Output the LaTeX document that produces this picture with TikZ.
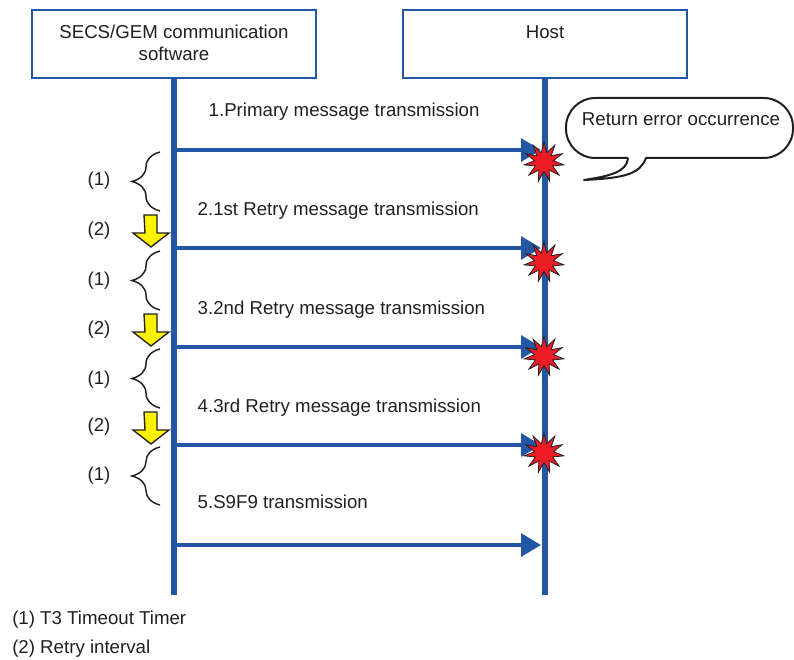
\documentclass[tikz,border=0pt]{standalone}
\usepackage{fontspec}
\setmainfont{Liberation Sans}
\usetikzlibrary{arrows.meta,shapes.geometric,decorations.pathreplacing}
\definecolor{lineblue}{RGB}{35,87,165}
\definecolor{hitred}{RGB}{237,28,36}
\definecolor{waityellow}{RGB}{255,242,0}
\definecolor{inkgray}{RGB}{35,31,32}
\begin{document}
\begin{tikzpicture}[x=0.75pt,y=-0.75pt,
    font=\fontsize{14}{16}\selectfont,text=inkgray,
    partbox/.style={draw=lineblue,line width=1.6pt,fill=white,minimum width=213pt,minimum height=51pt},
    lifeline/.style={draw=lineblue,line width=4.5pt},
    msg/.style={draw=lineblue,line width=3pt,-{Triangle[length=15pt,width=17pt]}},
    hit/.style={star,star points=11,star point ratio=2.1,draw=inkgray,line width=0.6pt,fill=hitred,inner sep=0pt,minimum size=30pt},
    timerbrace/.style={draw=inkgray,line width=1.1pt,decorate,decoration={brace,amplitude=21pt}},
    waitarrow/.style={draw=inkgray,line width=1pt,fill=waityellow,line join=miter}]
  \useasboundingbox (0,0) rectangle (794,660);

  % the two parties
  \node[partbox] (sw) at (174,44) {};
  \node[partbox] (host) at (545,44) {};
  \node[anchor=north,align=center,inner sep=0pt] (swname) at (174,25) {SECS/GEM communication\\software};
  \node[anchor=north,inner sep=0pt] (hostname) at (545,25) {Host};
  \coordinate (swend) at (174,595);
  \coordinate (hostend) at (545,595);
  \draw[lifeline] (sw.south) -- (swend);
  \draw[lifeline] (host.south) -- (hostend);

  % messages
  \foreach \y [count=\i] in {150,248,347,445,545} {
    \coordinate (s\i) at (177,\y);
    \coordinate (h\i) at (541,\y);
    \draw[msg] (s\i) -- (h\i);
  }
  \node[anchor=west] (m1) at (204,112) {1.Primary message transmission};
  \node[anchor=west] (m2) at (193,211) {2.1st Retry message transmission};
  \node[anchor=west] (m3) at (193,310) {3.2nd Retry message transmission};
  \node[anchor=west] (m4) at (193,408) {4.3rd Retry message transmission};
  \node[anchor=west] (m5) at (193,502) {5.S9F9 transmission};

  % return errors
  \node[hit] (e1) at (544,162) {};
  \node[hit] (e2) at (544,262) {};
  \node[hit] (e3) at (544,356) {};
  \node[hit] (e4) at (544,453) {};

  % callout
  \node (err) at (681,119) {Return error occurrence};
  \draw[line width=1.5pt,draw=inkgray,line join=round]
    (628,158) [rounded corners=22pt] -- (566,158) -- (566,98) -- (793,98) -- (793,158) [sharp corners] -- (646,158)
    .. controls (640,174) and (625,178) .. (584,180)
    .. controls (610,176) and (627,172) .. (628,158);

  % T3 timer braces
  \draw[timerbrace] (160,211) -- (160,152);
  \draw[timerbrace] (160,310) -- (160,251);
  \draw[timerbrace] (160,408) -- (160,349);
  \draw[timerbrace] (160,505) -- (160,447);
  \node (t1) at (99,181) {(1)};
  \node (t2) at (99,281) {(1)};
  \node (t3) at (99,380) {(1)};
  \node (t4) at (99,476) {(1)};

  % retry intervals
  \foreach \t in {215,314,412}
    \draw[waitarrow] (144,\t) -- ++(13,0) -- ++(0,18) -- ++(12,0) -- ++(-18,14) -- ++(-18,-14) -- ++(12,0) -- cycle;
  \node (r1) at (99,231) {(2)};
  \node (r2) at (99,330) {(2)};
  \node (r3) at (99,427) {(2)};

  % legend
  \node[anchor=west,inner sep=0pt] (lg1) at (12,620) {(1) T3 Timeout Timer};
  \node[anchor=west,inner sep=0pt] (lg2) at (12,649) {(2) Retry interval};
\end{tikzpicture}
\end{document}
